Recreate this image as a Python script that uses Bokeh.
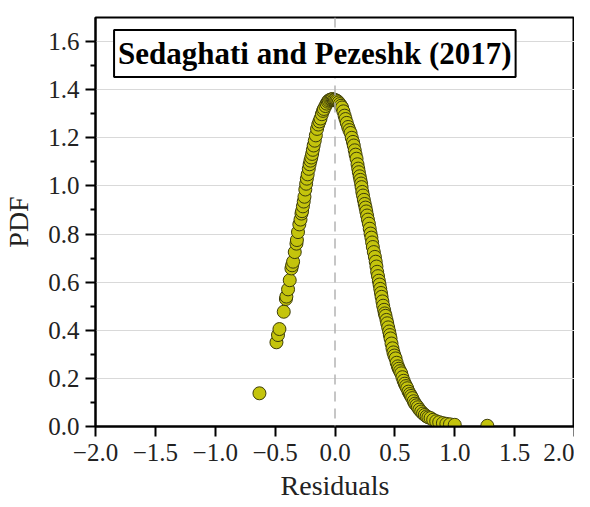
from bokeh.plotting import figure
from bokeh.models import (Label, Span, FixedTicker, CustomJSTickFormatter, ColumnDataSource)
from bokeh.embed import file_html
from bokeh.resources import INLINE

# ---- data ----
residuals = [
    -0.631, -0.489, -0.476, -0.464, -0.428, -0.410, -0.406, -0.392, -0.378, -0.364,
    -0.358, -0.350, -0.336, -0.322, -0.318, -0.309, -0.298, -0.288, -0.280, -0.275,
    -0.268, -0.261, -0.255, -0.248, -0.241, -0.235, -0.228, -0.219, -0.212, -0.205,
    -0.198, -0.191, -0.185, -0.178, -0.169, -0.160, -0.150, -0.140, -0.130, -0.121,
    -0.110, -0.100, -0.093, -0.080, -0.070, -0.060, -0.052, -0.040, -0.030, -0.020,
    -0.010, 0.000, 0.010, 0.020, 0.030, 0.040, 0.050, 0.059, 0.070, 0.080,
    0.088, 0.098, 0.110, 0.120, 0.130, 0.140, 0.150, 0.157, 0.165, 0.172,
    0.180, 0.188, 0.194, 0.199, 0.206, 0.212, 0.218, 0.222, 0.228, 0.234,
    0.241, 0.248, 0.255, 0.261, 0.268, 0.275, 0.283, 0.290, 0.297, 0.304,
    0.310, 0.316, 0.324, 0.333, 0.340, 0.346, 0.352, 0.359, 0.366, 0.372,
    0.378, 0.384, 0.389, 0.396, 0.402, 0.410, 0.416, 0.422, 0.430, 0.436,
    0.444, 0.452, 0.458, 0.464, 0.472, 0.480, 0.488, 0.496, 0.506, 0.515,
    0.525, 0.533, 0.543, 0.553, 0.563, 0.573, 0.583, 0.593, 0.603, 0.614,
    0.625, 0.635, 0.645, 0.657, 0.668, 0.680, 0.692, 0.705, 0.720, 0.735,
    0.750, 0.765, 0.780, 0.798, 0.820, 0.845, 0.870, 0.901, 0.930, 0.960,
    1.000, 1.272,
]
pdf = [
    0.138, 0.350, 0.380, 0.405, 0.477, 0.530, 0.540, 0.570, 0.608, 0.657,
    0.670, 0.685, 0.725, 0.760, 0.775, 0.808, 0.840, 0.860, 0.885, 0.895,
    0.915, 0.935, 0.955, 0.985, 1.009, 1.030, 1.048, 1.071, 1.090, 1.105,
    1.118, 1.133, 1.150, 1.168, 1.188, 1.210, 1.237, 1.255, 1.268, 1.280,
    1.298, 1.312, 1.320, 1.332, 1.342, 1.350, 1.355, 1.358, 1.360, 1.361,
    1.358, 1.357, 1.355, 1.352, 1.347, 1.340, 1.333, 1.326, 1.310, 1.292,
    1.278, 1.262, 1.245, 1.232, 1.220, 1.200, 1.183, 1.168, 1.148, 1.130,
    1.113, 1.090, 1.072, 1.057, 1.040, 1.025, 1.010, 0.995, 0.975, 0.960,
    0.942, 0.925, 0.910, 0.894, 0.877, 0.860, 0.843, 0.822, 0.802, 0.785,
    0.765, 0.746, 0.725, 0.705, 0.685, 0.665, 0.643, 0.625, 0.606, 0.590,
    0.572, 0.555, 0.539, 0.520, 0.502, 0.485, 0.470, 0.460, 0.443, 0.429,
    0.412, 0.395, 0.380, 0.366, 0.345, 0.325, 0.308, 0.295, 0.283, 0.265,
    0.250, 0.240, 0.230, 0.221, 0.205, 0.190, 0.178, 0.168, 0.159, 0.145,
    0.135, 0.127, 0.118, 0.105, 0.095, 0.088, 0.080, 0.070, 0.062, 0.054,
    0.048, 0.042, 0.038, 0.035, 0.028, 0.022, 0.018, 0.014, 0.011, 0.009,
    0.007, 0.003,
]
x_ticks = [-2.0, -1.5, -1.0, -0.5, 0.0, 0.5, 1.0, 1.5, 2.0]
y_ticks = [0.0, 0.2, 0.4, 0.6, 0.8, 1.0, 1.2, 1.4, 1.6]
y_minor_ticks = [0.1, 0.3, 0.5, 0.7, 0.9, 1.1, 1.3, 1.5]
title_text = "Sedaghati and Pezeshk (2017)"
x_label = "Residuals"
y_label = "PDF"

SERIF = "Liberation Serif"

p = figure(width=574, height=507, x_range=(-2.0, 2.0), y_range=(0.0, 1.7),
           output_backend="svg", toolbar_location=None,
           min_border_left=89, min_border_right=0, min_border_top=17, min_border_bottom=81)

p.background_fill_color = "white"
p.border_fill_color = "white"
p.outline_line_color = "black"
p.outline_line_width = 2

# grid
p.xgrid.grid_line_color = None
p.ygrid.grid_line_color = "#d9d9d9"
p.ygrid.grid_line_width = 1
p.ygrid.ticker = FixedTicker(ticks=y_ticks)

fmt = CustomJSTickFormatter(code="return tick.toFixed(1).replace('-', '\u2212');")

xa = p.xaxis[0]
xa.ticker = FixedTicker(ticks=x_ticks)
xa.formatter = fmt
xa.axis_label = x_label
ya = p.yaxis[0]
ya.ticker = FixedTicker(ticks=y_ticks, minor_ticks=y_minor_ticks)
ya.formatter = fmt
ya.axis_label = y_label

for ax in (xa, ya):
    ax.axis_line_color = "black"
    ax.axis_line_width = 2
    ax.major_tick_line_color = "black"
    ax.major_tick_line_width = 2
    ax.major_tick_out = 10
    ax.major_tick_in = 0
    ax.minor_tick_line_color = "black"
    ax.minor_tick_line_width = 2
    ax.minor_tick_out = 5
    ax.minor_tick_in = 0
    ax.major_label_text_font = SERIF
    ax.major_label_text_font_size = "25px"
    ax.major_label_text_color = "#222222"
    ax.axis_label_text_font = SERIF
    ax.axis_label_text_font_size = "28px"
    ax.axis_label_text_font_style = "normal"
    ax.axis_label_text_color = "#222222"

xa.minor_tick_line_color = None
xa.major_label_standoff = 7
xa.axis_label_standoff = 6
ya.major_label_standoff = 6
ya.axis_label_standoff = 11

# dashed zero line
p.add_layout(Span(location=0.0, dimension="height", line_color="#b3b3b3",
                  line_width=1.5, line_dash="10 7"))

src = ColumnDataSource(data=dict(x=residuals, y=pdf))
p.scatter("x", "y", source=src, size=13, marker="circle",
          fill_color="#c4c40c", line_color="#3d3d0a", line_width=1)

title = Label(x=-1.845, y=1.648, text=title_text, text_align="left", text_baseline="top",
              text_font=SERIF, text_font_size="31px", text_font_style="bold",
              text_color="black", border_line_color="black", border_line_width=2,
              background_fill_color="white", padding=(4, 6))
p.add_layout(title)

open("out.html", "w").write(file_html(p, INLINE))
